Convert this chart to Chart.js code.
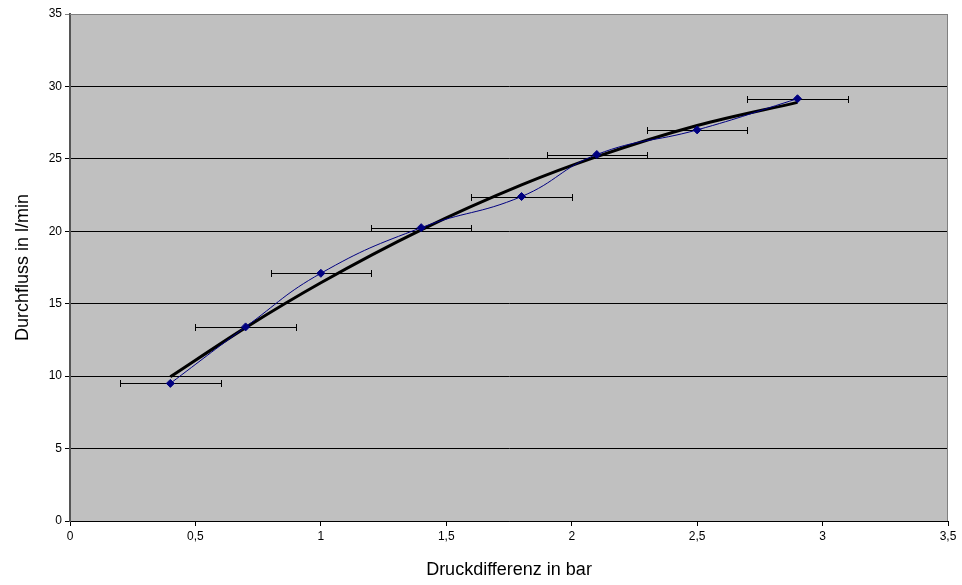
<!DOCTYPE html>
<html>
<head>
<meta charset="utf-8">
<script src="https://cdn.jsdelivr.net/npm/chart.js@4.4.0/dist/chart.umd.min.js"></script>
<style>
  html, body { margin: 0; padding: 0; background: #fff; }
  #wrap { width: 962px; height: 585px; }
</style>
</head>
<body>
<div id="wrap"><canvas id="flowChart"></canvas></div>
<script>
// Messwerte
const druck = [0.4, 0.7, 1.0, 1.4, 1.8, 2.1, 2.5, 2.9];
const durchfluss = [9.5, 13.4, 17.1, 20.25, 22.4, 25.3, 27.0, 29.15];
const fehlerX = [0.2, 0.2, 0.2, 0.2, 0.2, 0.2, 0.2, 0.2];

const trendX = [0.4, 0.7, 1.0, 1.4, 1.8, 2.1, 2.5, 2.9];
const trendY = [9.95, 13.35, 16.45, 20.1, 23.2, 25.15, 27.3, 28.9];

const xTicks = [0, 0.5, 1, 1.5, 2, 2.5, 3, 3.5];

const toPoints = (xs, ys) => xs.map((x, i) => ({ x: x, y: ys[i] }));

const plotBackground = {
    id: 'plotBackground',
    beforeDraw(chart) {
        const { ctx, chartArea: a } = chart;
        ctx.save();
        ctx.fillStyle = '#c0c0c0';
        ctx.fillRect(a.left, a.top, a.right - a.left, a.bottom - a.top);
        ctx.restore();
    },
    afterDraw(chart) {
        const { ctx, chartArea: a } = chart;
        ctx.save();
        ctx.strokeStyle = '#808080';
        ctx.lineWidth = 1;
        ctx.beginPath();
        ctx.moveTo(a.left, a.top + 0.5);
        ctx.lineTo(a.right - 0.5, a.top + 0.5);
        ctx.lineTo(a.right - 0.5, a.bottom);
        ctx.stroke();
        ctx.restore();
    }
};

const errorBars = {
    id: 'errorBars',
    beforeDatasetsDraw(chart) {
        const { ctx, scales: { x, y } } = chart;
        ctx.save();
        ctx.strokeStyle = '#000';
        ctx.lineWidth = 1;
        druck.forEach((d, i) => {
            const x0 = Math.round(x.getPixelForValue(d - fehlerX[i])) + 0.5;
            const x1 = Math.round(x.getPixelForValue(d + fehlerX[i])) + 0.5;
            const py = Math.round(y.getPixelForValue(durchfluss[i])) + 0.5;
            ctx.beginPath();
            ctx.moveTo(x0, py); ctx.lineTo(x1, py);
            ctx.moveTo(x0, py - 3.5); ctx.lineTo(x0, py + 3.5);
            ctx.moveTo(x1, py - 3.5); ctx.lineTo(x1, py + 3.5);
            ctx.stroke();
        });
        ctx.restore();
    }
};

const fmt = v => String(v).replace('.', ',');

new Chart(document.getElementById('flowChart').getContext('2d'), {
    type: 'scatter',
    data: {
        datasets: [{
            label: 'Messwerte',
            data: toPoints(druck, durchfluss),
            showLine: true,
            borderColor: '#000080',
            borderWidth: 1,
            tension: 0.45,
            pointStyle: 'rectRot',
            pointRadius: 4,
            pointBackgroundColor: '#000080',
            pointBorderColor: '#000080',
            order: 0
        }, {
            label: 'Trend',
            data: toPoints(trendX, trendY),
            showLine: true,
            borderColor: '#000',
            borderWidth: 3,
            cubicInterpolationMode: 'monotone',
            pointRadius: 0,
            order: 1
        }]
    },
    options: {
        responsive: true,
        maintainAspectRatio: false,
        animation: false,
        layout: { padding: { top: 14, right: 14, left: 0, bottom: 0 } },
        plugins: {
            legend: { display: false },
            tooltip: { enabled: false }
        },
        scales: {
            x: {
                type: 'linear',
                min: 0,
                max: 3.5,
                afterBuildTicks: s => { s.ticks = xTicks.map(v => ({ value: v })); },
                afterFit: s => { s.height = 64; },
                grid: { drawOnChartArea: false, drawTicks: true, tickLength: 5, color: '#000' },
                border: { color: '#000', width: 1 },
                ticks: {
                    color: '#000',
                    font: { family: 'Liberation Sans, Arial', size: 12 },
                    padding: 3,
                    callback: v => fmt(v)
                },
                title: {
                    display: true,
                    text: 'Druckdifferenz in bar',
                    color: '#000',
                    font: { family: 'Liberation Sans, Arial', size: 18 },
                    padding: { top: 4, bottom: 4 }
                }
            },
            y: {
                min: 0,
                max: 35,
                afterFit: s => { s.width = 70; },
                grid: {
                    color: c => (c.tick && c.tick.value === 35 ? '#808080' : '#000'),
                    tickLength: 5,
                    drawTicks: true
                },
                border: { color: '#555', width: 2 },
                ticks: {
                    stepSize: 5,
                    color: '#000',
                    font: { family: 'Liberation Sans, Arial', size: 12 },
                    padding: 3
                },
                title: {
                    display: true,
                    text: 'Durchfluss in l/min',
                    color: '#000',
                    font: { family: 'Liberation Sans, Arial', size: 18 },
                    padding: { top: 12, bottom: 4 }
                }
            }
        }
    },
    plugins: [plotBackground, errorBars]
});
</script>
</body>
</html>
